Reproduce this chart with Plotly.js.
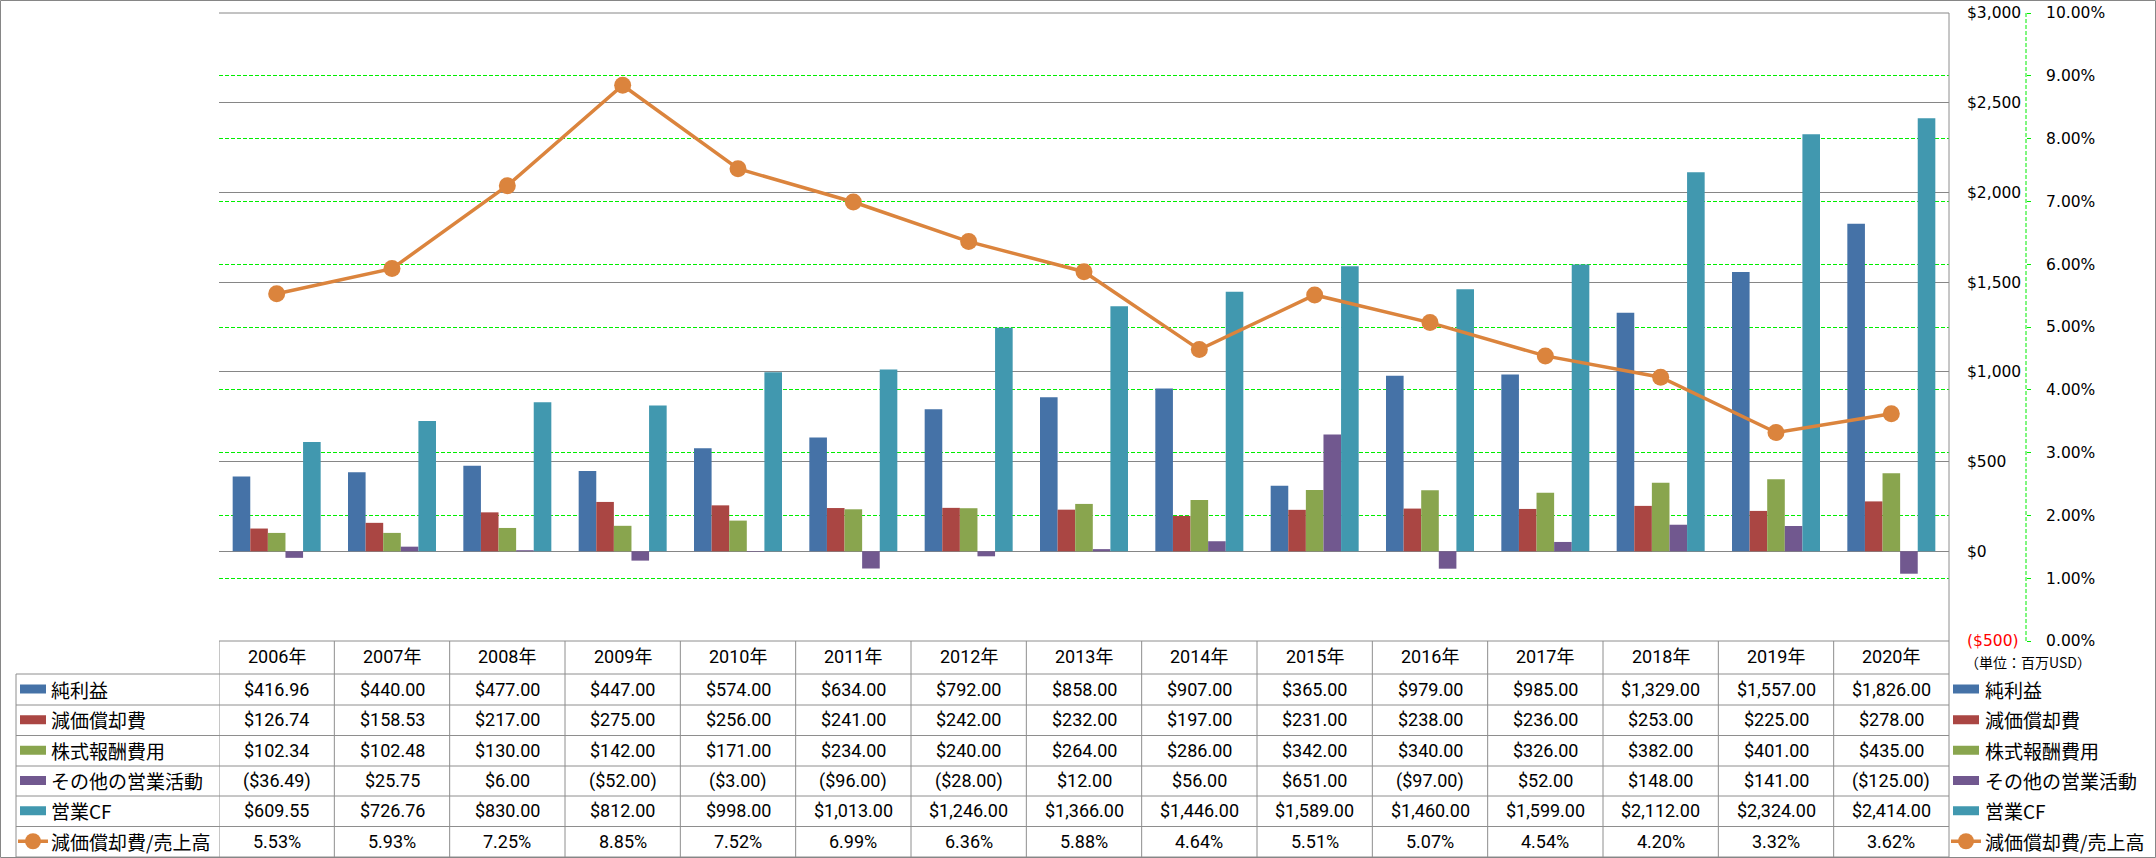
<!DOCTYPE html>
<html>
<head>
<meta charset="utf-8">
<script src="https://cdn.plot.ly/plotly-3.0.1.min.js"></script>
<style>
html,body{margin:0;padding:0;background:#fff;}
#chart{width:2156px;height:858px;}
</style>
</head>
<body>
<div id="chart"></div>
<script>
// ---- data ----
const years = ['2006年','2007年','2008年','2009年','2010年','2011年','2012年','2013年','2014年','2015年','2016年','2017年','2018年','2019年','2020年'];
const seriesNames = ['純利益','減価償却費','株式報酬費用','その他の営業活動','営業CF','減価償却費/売上高'];
const netIncome    = [416.96,440.00,477.00,447.00,574.00,634.00,792.00,858.00,907.00,365.00,979.00,985.00,1329.00,1557.00,1826.00];
const depreciation = [126.74,158.53,217.00,275.00,256.00,241.00,242.00,232.00,197.00,231.00,238.00,236.00,253.00,225.00,278.00];
const stockComp    = [102.34,102.48,130.00,142.00,171.00,234.00,240.00,264.00,286.00,342.00,340.00,326.00,382.00,401.00,435.00];
const otherOps     = [-36.49,25.75,6.00,-52.00,-3.00,-96.00,-28.00,12.00,56.00,651.00,-97.00,52.00,148.00,141.00,-125.00];
const operatingCF  = [609.55,726.76,830.00,812.00,998.00,1013.00,1246.00,1366.00,1446.00,1589.00,1460.00,1599.00,2112.00,2324.00,2414.00];
const deprRatio    = [5.53,5.93,7.25,8.85,7.52,6.99,6.36,5.88,4.64,5.51,5.07,4.54,4.20,3.32,3.62];
const usdTickVals  = [-500,0,500,1000,1500,2000,2500,3000];
const usdTickText  = ["<span style='color:#FF0000'>($500)</span>",'$0','$500','$1,000','$1,500','$2,000','$2,500','$3,000'];
const unitNote = '（単位：百万USD）';

// ---- style ----
const colors = ['#4572A7','#AA4643','#89A54E','#71588F','#4198AF','#DB843D'];
const barSeries = [netIncome, depreciation, stockComp, otherOps, operatingCF];
const GRID = '#868686';
const TBL = '#8E8E8E';
const GREEN = '#00EE00';
const numFont = {family:'Roboto, "Noto Sans CJK JP", sans-serif', size:18, color:'#000'};
const jpFont = {family:'"Noto Sans CJK JP", sans-serif', size:19, color:'#000'};

// ---- geometry helpers (pixels -> paper) ----
const W = 2156, H = 858, L = 219, R = 130, T = 13, B = 217;
const PW = W - L - R, PH = H - T - B;
const PLOT_RIGHT = 1949;
const px = p => (p - L) / PW;
const py = p => (H - B - p) / PH;
const xDomEnd = (PLOT_RIGHT - L) / PW;

const rowLines = [641, 674, 705, 735.5, 766, 796, 826.5, 857];

function fmtUsd(v){
  const s = '$' + Math.abs(v).toLocaleString('en-US',{minimumFractionDigits:2, maximumFractionDigits:2});
  return v < 0 ? '(' + s + ')' : s;
}
function fmtPct(v){ return v.toFixed(2) + '%'; }

// ---- traces ----
const traces = barSeries.map((arr,i)=>({
  type:'bar', name:seriesNames[i], x:years, y:arr,
  marker:{color:colors[i], line:{width:0}}, xaxis:'x', yaxis:'y', showlegend:false
}));
traces.push({
  type:'scatter', mode:'lines+markers', name:seriesNames[5], x:years, y:deprRatio,
  xaxis:'x', yaxis:'y2', line:{color:colors[5], width:3.5},
  marker:{color:colors[5], size:17}, showlegend:false
});

// ---- shapes & annotations (table, legend keys) ----
const shapes = [];
const annotations = [];
const line = (x0,y0,x1,y1,xref,color,w,dash)=>shapes.push({type:'line',xref:xref||'paper',yref:'paper',x0,y0,x1,y1,line:{color:color||TBL,width:w||1,dash:dash||'solid'},layer:'above'});

// top gridline (draw over green 10% line)
line(0, 1, xDomEnd, 1, 'paper', GRID, 1);
// secondary axis dashed line
line(1, 0, 1, 1, 'paper', GREEN, 1, '4px,2px');
// header top
line(0, py(rowLines[0]), xDomEnd, py(rowLines[0]), 'paper', TBL, 1);
// row lines
for (let r=1; r<rowLines.length; r++) line(px(16), py(rowLines[r]), xDomEnd, py(rowLines[r]), 'paper', TBL, 1);
// vertical lines at category boundaries
for (let c=0; c<years.length; c++) line(c-0.5, py(rowLines[0]), c-0.5, py(rowLines[rowLines.length-1]), 'x', TBL, 1);
// right value-axis line through the table
line(xDomEnd, 1, xDomEnd, py(rowLines[rowLines.length-1]), 'paper', TBL, 1);
// left border of label column
line(px(16), py(rowLines[1]), px(16), py(rowLines[rowLines.length-1]), 'paper', TBL, 1);
// outer chart border
shapes.push({type:'rect',xref:'paper',yref:'paper',x0:px(0.5),x1:px(2155.5),y0:py(857.5),y1:py(0.5),line:{color:GRID,width:1},fillcolor:'rgba(0,0,0,0)',layer:'above'});

// header years
years.forEach((yr,c)=>{
  annotations.push({xref:'x',yref:'paper',x:c,y:py((rowLines[0]+rowLines[1])/2 - 1),text:yr,showarrow:false,font:numFont,xanchor:'center',yanchor:'middle'});
});
// body values
const allRows = [netIncome, depreciation, stockComp, otherOps, operatingCF, deprRatio];
allRows.forEach((arr,r)=>{
  const yc = (rowLines[r+1]+rowLines[r+2])/2 - 0.5;
  arr.forEach((v,c)=>{
    annotations.push({xref:'x',yref:'paper',x:c,y:py(yc),text: r===5 ? fmtPct(v) : fmtUsd(v),showarrow:false,font:numFont,xanchor:'center',yanchor:'middle'});
  });
  // legend keys, left (in table) and right
  [[20,46,49],[1953,1979,1983]].forEach(([k0,k1,tx])=>{
    if (r<5){
      shapes.push({type:'rect',xref:'paper',yref:'paper',x0:px(k0),x1:px(k1),y0:py(yc+4.5),y1:py(yc-4.5),fillcolor:colors[r],line:{width:0},layer:'above'});
    } else {
      line(px(k0-2), py(yc), px(k1+2), py(yc), 'paper', colors[5], 3.5);
      const cx = px((k0+k1)/2), cy = py(yc);
      shapes.push({type:'circle',xref:'paper',yref:'paper',xsizemode:'pixel',ysizemode:'pixel',xanchor:cx,yanchor:cy,x0:-8,x1:8,y0:-8,y1:8,fillcolor:colors[5],line:{width:0},layer:'above'});
    }
    annotations.push({xref:'paper',yref:'paper',x:px(tx),y:py(yc),text:seriesNames[r],showarrow:false,font:jpFont,xanchor:'left',yanchor:'middle'});
  });
});
// unit note
annotations.push({xref:'paper',yref:'paper',x:px(1963),y:py(662),text:unitNote,showarrow:false,font:{family:'"Noto Sans CJK JP", sans-serif',size:14,color:'#000'},xanchor:'left',yanchor:'middle'});

const layout = {
  width:W, height:H,
  margin:{l:L, r:R, t:T, b:B, pad:0},
  paper_bgcolor:'#fff', plot_bgcolor:'rgba(0,0,0,0)',
  barmode:'group', bargap:0.237, bargroupgap:0,
  showlegend:false,
  xaxis:{domain:[0,xDomEnd], type:'category', showticklabels:false, showgrid:false, zeroline:false, showline:false, ticks:'', range:[-0.5,14.5], fixedrange:true},
  yaxis:{side:'right', anchor:'x', range:[-500,3000], tickvals:usdTickVals, ticktext:usdTickText,
         showgrid:true, gridcolor:GRID, gridwidth:1, zeroline:true, zerolinecolor:GRID, zerolinewidth:1,
         showline:false, ticks:'', ticklabelstandoff:17,
         tickfont:{family:'"DejaVu Sans", sans-serif', size:15.5, color:'#000'}, fixedrange:true},
  yaxis2:{overlaying:'y', side:'right', anchor:'free', position:1, range:[0,10], dtick:1, tick0:0,
          tickformat:'.2f', ticksuffix:'%', showgrid:true, gridcolor:GREEN, gridwidth:1, griddash:'4px,2px',
          zeroline:false, showline:false, ticks:'outside', ticklen:4, tickcolor:GREEN, tickwidth:1,
          ticklabelstandoff:12,
          tickfont:{family:'"DejaVu Sans", sans-serif', size:15.5, color:'#000'}, fixedrange:true},
  shapes:shapes,
  annotations:annotations
};

Plotly.newPlot('chart', traces, layout, {staticPlot:true, displayModeBar:false});
</script>
</body>
</html>
